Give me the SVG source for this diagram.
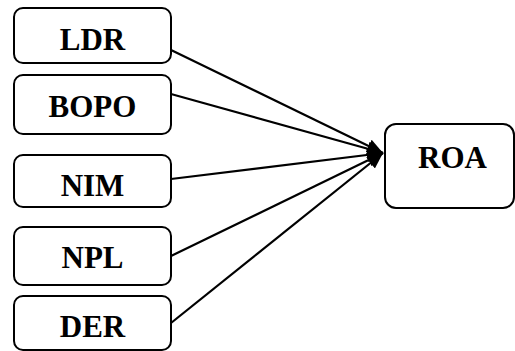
<svg xmlns="http://www.w3.org/2000/svg" width="515" height="351" viewBox="0 0 515 351">
<defs>
<style>
.box{fill:#fff;stroke:#000;stroke-width:2}
.lbl{font-family:"Liberation Serif","Times New Roman",Times,serif;font-weight:700;font-size:31px;text-anchor:middle;fill:#000}
.edge{stroke:#000;stroke-width:2.2;fill:none}
</style>
<marker id="arr" viewBox="0 0 16 14" refX="16" refY="7" markerWidth="16" markerHeight="14" markerUnits="userSpaceOnUse" orient="auto">
<path d="M0,0 L16,7 L0,14 Z" fill="#000"/>
</marker>
</defs>
<g id="connectors">
<line class="edge" x1="171" y1="50" x2="383" y2="153" marker-end="url(#arr)"/>
<line class="edge" x1="171" y1="94" x2="383" y2="153" marker-end="url(#arr)"/>
<line class="edge" x1="171" y1="179" x2="383" y2="153" marker-end="url(#arr)"/>
<line class="edge" x1="171" y1="256" x2="383" y2="153" marker-end="url(#arr)"/>
<line class="edge" x1="171" y1="323" x2="383" y2="153" marker-end="url(#arr)"/>
</g>
<g id="LDR"><rect class="box" x="14" y="8" width="157" height="55" rx="9"/><text class="lbl" x="92.5" y="50">LDR</text></g>
<g id="BOPO"><rect class="box" x="14" y="75" width="157" height="59" rx="9"/><text class="lbl" x="92.5" y="117">BOPO</text></g>
<g id="NIM"><rect class="box" x="14" y="155" width="157" height="52" rx="9"/><text class="lbl" x="92.5" y="196">NIM</text></g>
<g id="NPL"><rect class="box" x="14" y="227" width="157" height="58" rx="9"/><text class="lbl" x="92.5" y="268">NPL</text></g>
<g id="DER"><rect class="box" x="14" y="296" width="157" height="54" rx="9"/><text class="lbl" x="92.5" y="337">DER</text></g>
<g id="ROA"><rect class="box" x="385" y="124" width="129" height="84" rx="11"/><text class="lbl" x="452.5" y="168">ROA</text></g>
</svg>
